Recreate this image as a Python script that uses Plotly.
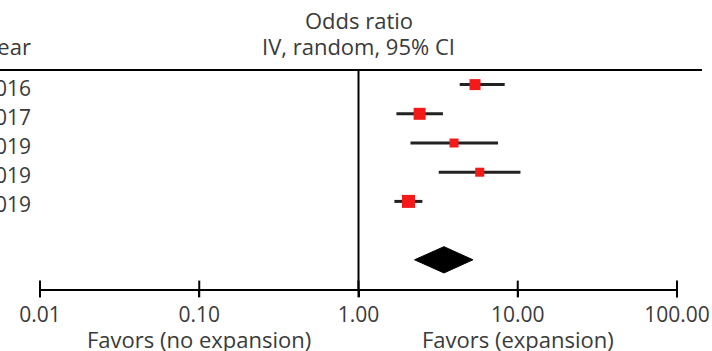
import math
import plotly.graph_objects as go

# Study-level odds ratios with 95% confidence limits (IV, random effects)
years = ["2016", "2017", "2019", "2019", "2019"]
odds_ratio = [5.39, 2.42, 3.98, 5.77, 2.06]
ci_low = [4.32, 1.73, 2.12, 3.19, 1.68]
ci_high = [8.28, 3.39, 7.52, 10.4, 2.52]

# Pooled estimate
pooled_or = 3.44
pooled_low = 2.25
pooled_high = 5.23

# Axis ticks
tick_vals = [0.01, 0.1, 1, 10, 100]
tick_text = ["0.01", "0.10", "1.00", "10.00", "100.00"]

# Styling
FONT = "Open Sans"
FS_NUM = 21
FS_LABEL = 22
TXT = "#3a3a3a"
RED = "#f41a1a"
square_px = [11, 12, 9, 9, 13]

rows = list(range(len(years)))
pooled_row = len(years) + 1
axis_row = len(years) + 2

fig = go.Figure()

# Confidence intervals with study squares
fig.add_trace(go.Scatter(
    x=odds_ratio, y=rows, mode="markers",
    marker=dict(symbol="square", size=square_px, color=RED, opacity=1,
                line=dict(width=0)),
    error_x=dict(type="data", symmetric=False,
                 array=[h - o for h, o in zip(ci_high, odds_ratio)],
                 arrayminus=[o - l for o, l in zip(odds_ratio, ci_low)],
                 color="#222222", thickness=3, width=0),
    cliponaxis=False, hoverinfo="skip",
))

# Pooled diamond
half_h = 0.45
fig.add_trace(go.Scatter(
    x=[pooled_low, pooled_or, pooled_high, pooled_or, pooled_low],
    y=[pooled_row, pooled_row - half_h, pooled_row, pooled_row + half_h, pooled_row],
    mode="lines", fill="toself", fillcolor="black",
    line=dict(color="black", width=1), hoverinfo="skip",
))

# Line of no effect
fig.add_trace(go.Scatter(
    x=[1, 1], y=[-0.5, axis_row], mode="lines",
    line=dict(color="black", width=2), cliponaxis=False, hoverinfo="skip",
))

# Tick marks crossing the axis line
fig.add_trace(go.Scatter(
    x=tick_vals, y=[axis_row] * len(tick_vals), mode="markers",
    marker=dict(symbol="line-ns", size=12, line=dict(color="black", width=2)),
    cliponaxis=False, hoverinfo="skip",
))

annotations = []
for r, yr in zip(rows, years):
    annotations.append(dict(
        x=-7 / 637, xref="paper", y=r, yref="y", text=yr, showarrow=False,
        xanchor="right", yanchor="middle", yshift=-3,
        font=dict(family=FONT, size=FS_NUM, color=TXT)))

def header(text, px_y, x=0, xref="x", xanchor="center"):
    annotations.append(dict(
        x=x, xref=xref, y=(289 - px_y) / 219, yref="paper", text=text,
        showarrow=False, xanchor=xanchor, yanchor="middle",
        font=dict(family=FONT, size=FS_LABEL, color=TXT)))

header("Odds ratio", 20)
header("IV, random, 95% CI", 46)
header("Year", 46, x=-7 / 637, xref="paper", xanchor="right")
header("Favors (no expansion)", 339, x=math.log10(0.1))
header("Favors (expansion)", 339, x=math.log10(10))

fig.update_layout(
    width=712, height=351,
    margin=dict(l=40, r=35, t=70, b=62, pad=0, autoexpand=False),
    paper_bgcolor="white", plot_bgcolor="white",
    showlegend=False,
    font=dict(family=FONT, size=FS_NUM, color=TXT),
    xaxis=dict(type="log", range=[-2, 2], showline=True, linecolor="black",
               linewidth=2, tickvals=tick_vals, ticktext=tick_text,
               ticks="outside", ticklen=6, tickwidth=2, tickcolor="black",
               showgrid=False, zeroline=False, automargin=False,
               tickfont=dict(family=FONT, size=FS_NUM, color=TXT)),
    yaxis=dict(range=[axis_row, -0.5], visible=False, showgrid=False,
               automargin=False),
    shapes=[dict(type="line", xref="paper", yref="paper",
                 x0=-40 / 637, x1=662 / 637, y0=1, y1=1,
                 line=dict(color="black", width=2))],
    annotations=annotations,
)

fig.write_html("out.html")
